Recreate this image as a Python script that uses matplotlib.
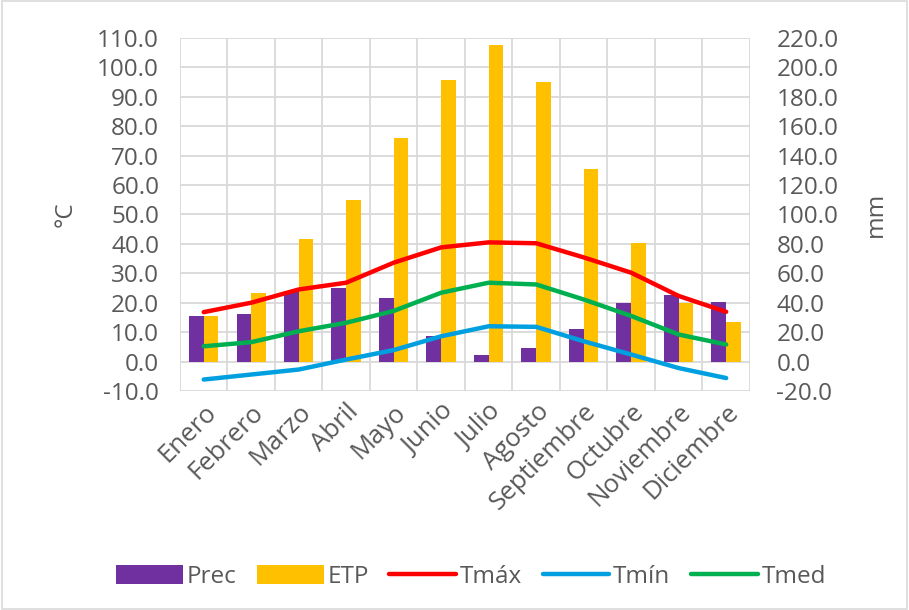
import matplotlib
matplotlib.use("Agg")
import matplotlib.pyplot as plt
import numpy as np
from matplotlib.ticker import MultipleLocator, FormatStrFormatter

months = ["Enero", "Febrero", "Marzo", "Abril", "Mayo", "Junio", "Julio",
          "Agosto", "Septiembre", "Octubre", "Noviembre", "Diciembre"]
prec = [31.3, 32.0, 47.8, 50.1, 42.9, 17.2, 4.8, 9.3, 21.8, 39.5, 45.1, 40.6]
etp = [31.3, 46.3, 83.0, 109.5, 151.9, 191.4, 215.0, 190.0, 130.6, 80.3, 39.5, 27.2]
tmax = [16.8, 20.0, 24.5, 26.8, 33.6, 38.8, 40.5, 40.2, 35.4, 30.2, 22.3, 16.9]
tmin = [-6.1, -4.4, -2.7, 0.7, 3.9, 8.6, 12.0, 11.8, 6.9, 2.4, -2.2, -5.6]
tmed = [5.2, 6.6, 10.3, 13.2, 17.2, 23.4, 26.8, 26.2, 21.1, 15.5, 9.2, 5.8]

plt.rcParams["font.family"] = ["Open Sans", "DejaVu Sans"]
txt = "#595959"
grid = "#d9d9d9"
fs = 17.5

fig = plt.figure(figsize=(9.09, 6.10), dpi=100)
ax = fig.add_axes([0.198, 0.359, 0.627, 0.579])
ax2 = ax.twinx()

x = np.arange(len(months))
w = 0.31
ax2.bar(x - w / 2, prec, width=w, color="#7030a0", label="Prec", zorder=2)
ax2.bar(x + w / 2, etp, width=w, color="#ffc000", label="ETP", zorder=2)

# lines belong on top of the bars
ax.set_zorder(ax2.get_zorder() + 1)
ax.patch.set_visible(False)
ax.plot(x, tmax, color="#ff0000", lw=3.2, label="Tmáx", solid_capstyle="round")
ax.plot(x, tmin, color="#00a0e0", lw=3.2, label="Tmín", solid_capstyle="round")
ax.plot(x, tmed, color="#00b050", lw=3.2, label="Tmed", solid_capstyle="round")

ax.set_xlim(-0.5, 11.5)
ax.set_ylim(-10, 110)
ax2.set_ylim(-20, 220)
ax.yaxis.set_major_locator(MultipleLocator(10))
ax2.yaxis.set_major_locator(MultipleLocator(20))
ax.yaxis.set_major_formatter(FormatStrFormatter("%.1f"))
ax2.yaxis.set_major_formatter(FormatStrFormatter("%.1f"))

# gridlines drawn on the bar axes so they sit behind everything
for v in np.arange(-20, 221, 20):
    ax2.axhline(v, color=grid, lw=1.3, zorder=0)
for b in np.arange(-0.5, 12, 1):
    ax2.axvline(b, color=grid, lw=1.3, zorder=0)

ax.set_xticks(x)
ax.set_xticklabels(months, rotation=45, ha="right", rotation_mode="anchor",
                   fontsize=18.5, color=txt)
ax.tick_params(axis="x", length=0, pad=6)
ax.tick_params(axis="y", length=0, labelsize=fs, labelcolor=txt, pad=15)
ax2.tick_params(axis="y", length=0, labelsize=fs, labelcolor=txt, pad=19)

for a in (ax, ax2):
    for s in a.spines.values():
        s.set_visible(False)

ax.set_ylabel("°C", fontsize=fs, color=txt, labelpad=14)
ax2.set_ylabel("mm", fontsize=fs, color=txt, labelpad=18)

h1, l1 = ax2.get_legend_handles_labels()
h2, l2 = ax.get_legend_handles_labels()
fig.legend(h1 + h2, l1 + l2, loc="center", bbox_to_anchor=(0.518, 0.054),
           ncol=5, frameon=False, fontsize=fs, labelcolor=txt,
           handlelength=2.75, handleheight=0.8, handletextpad=0.15,
           columnspacing=0.85)

fig.patches.append(plt.Rectangle((0.002, 0.002), 0.996, 0.996,
                                 transform=fig.transFigure, fill=False,
                                 edgecolor=grid, lw=1.2))

fig.savefig("out.png", dpi=100)
